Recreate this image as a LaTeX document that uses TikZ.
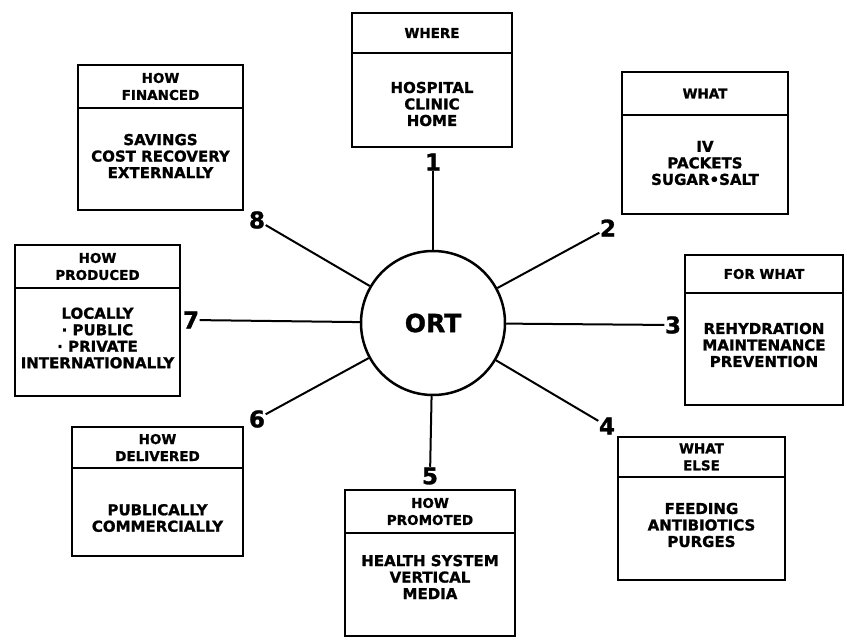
\documentclass[tikz,border=0pt]{standalone}
\usepackage{fontspec}
\setmainfont{DejaVu Sans}[BoldFeatures={FakeBold=1.2}]
\tikzset{
  frame/.style={line width=2.8pt},
  boxframe/.style={draw, frame, rectangle, inner sep=0pt, outer sep=0pt},
  headtext/.style={align=center, inner sep=0pt, font=\fontsize{13.5}{17}\selectfont\bfseries},
  bodytext/.style={align=center, inner sep=0pt, font=\fontsize{15}{16.5}\selectfont\bfseries},
  numlabel/.style={inner sep=0.5pt, font=\fontsize{23}{23}\selectfont\bfseries},
  conn/.style={line width=2pt},
  hub/.style={circle, draw, line width=2.5pt, minimum size=144pt, inner sep=0pt,
              font=\fontsize{25}{25}\selectfont\bfseries}
}
\newcommand\infobox[9]{%
  \node[boxframe, minimum width={#4-#2}, minimum height={#5-#3}] (#1) at ({(#2+#4)/2},{(#3+#5)/2}) {};
  \draw[frame] (#1.west |- 0,#6) -- (#1.east |- 0,#6);
  \node[headtext] (#1-h) at ({(#2+#4)/2},{(#3+#6)/2}) {#7};
  \node[bodytext] (#1-b) at ({(#2+#4)/2},#9) {#8};
}
\begin{document}
\begin{tikzpicture}[x=1pt,y=-1pt]
\useasboundingbox (0,0) rectangle (847,640);
\fill[white] (0,0) rectangle (847,640);

\node[hub] (ort) at (433,323) {ORT};

\infobox{where}{352}{13}{512}{147}{53}{WHERE}{HOSPITAL\\CLINIC\\HOME}{104}
\infobox{fin}{78}{65}{243}{210}{108}{HOW\\FINANCED}{SAVINGS\\COST RECOVERY\\EXTERNALLY}{156}
\infobox{what}{622}{72}{788}{214}{115}{WHAT}{IV\\PACKETS\\SUGAR•SALT}{163}
\infobox{prod}{15}{245}{180}{396}{288}{HOW\\PRODUCED}{LOCALLY\\· PUBLIC\\· PRIVATE\\INTERNATIONALLY}{338}
\infobox{forwhat}{685}{255}{843}{405}{293}{FOR WHAT}{REHYDRATION\\MAINTENANCE\\PREVENTION}{345}
\infobox{deliv}{72}{427}{243}{556}{468}{HOW\\DELIVERED}{PUBLICALLY\\COMMERCIALLY}{518}
\infobox{prom}{345}{490}{515}{636}{533}{HOW\\PROMOTED}{HEALTH SYSTEM\\VERTICAL\\MEDIA}{577}
\infobox{else}{618}{437}{785}{580}{477}{WHAT\\ELSE}{FEEDING\\ANTIBIOTICS\\PURGES}{525}

\node[numlabel] (n1) at (433,162) {1};
\node[numlabel] (n2) at (608,228) {2};
\node[numlabel] (n3) at (673,325) {3};
\node[numlabel] (n4) at (607,426) {4};
\node[numlabel] (n5) at (430,476) {5};
\node[numlabel] (n6) at (257,419) {6};
\node[numlabel] (n7) at (191,320) {7};
\node[numlabel] (n8) at (257,220) {8};

\foreach \n in {1,...,8}{\draw[conn] (ort) -- (n\n);}
\end{tikzpicture}
\end{document}
